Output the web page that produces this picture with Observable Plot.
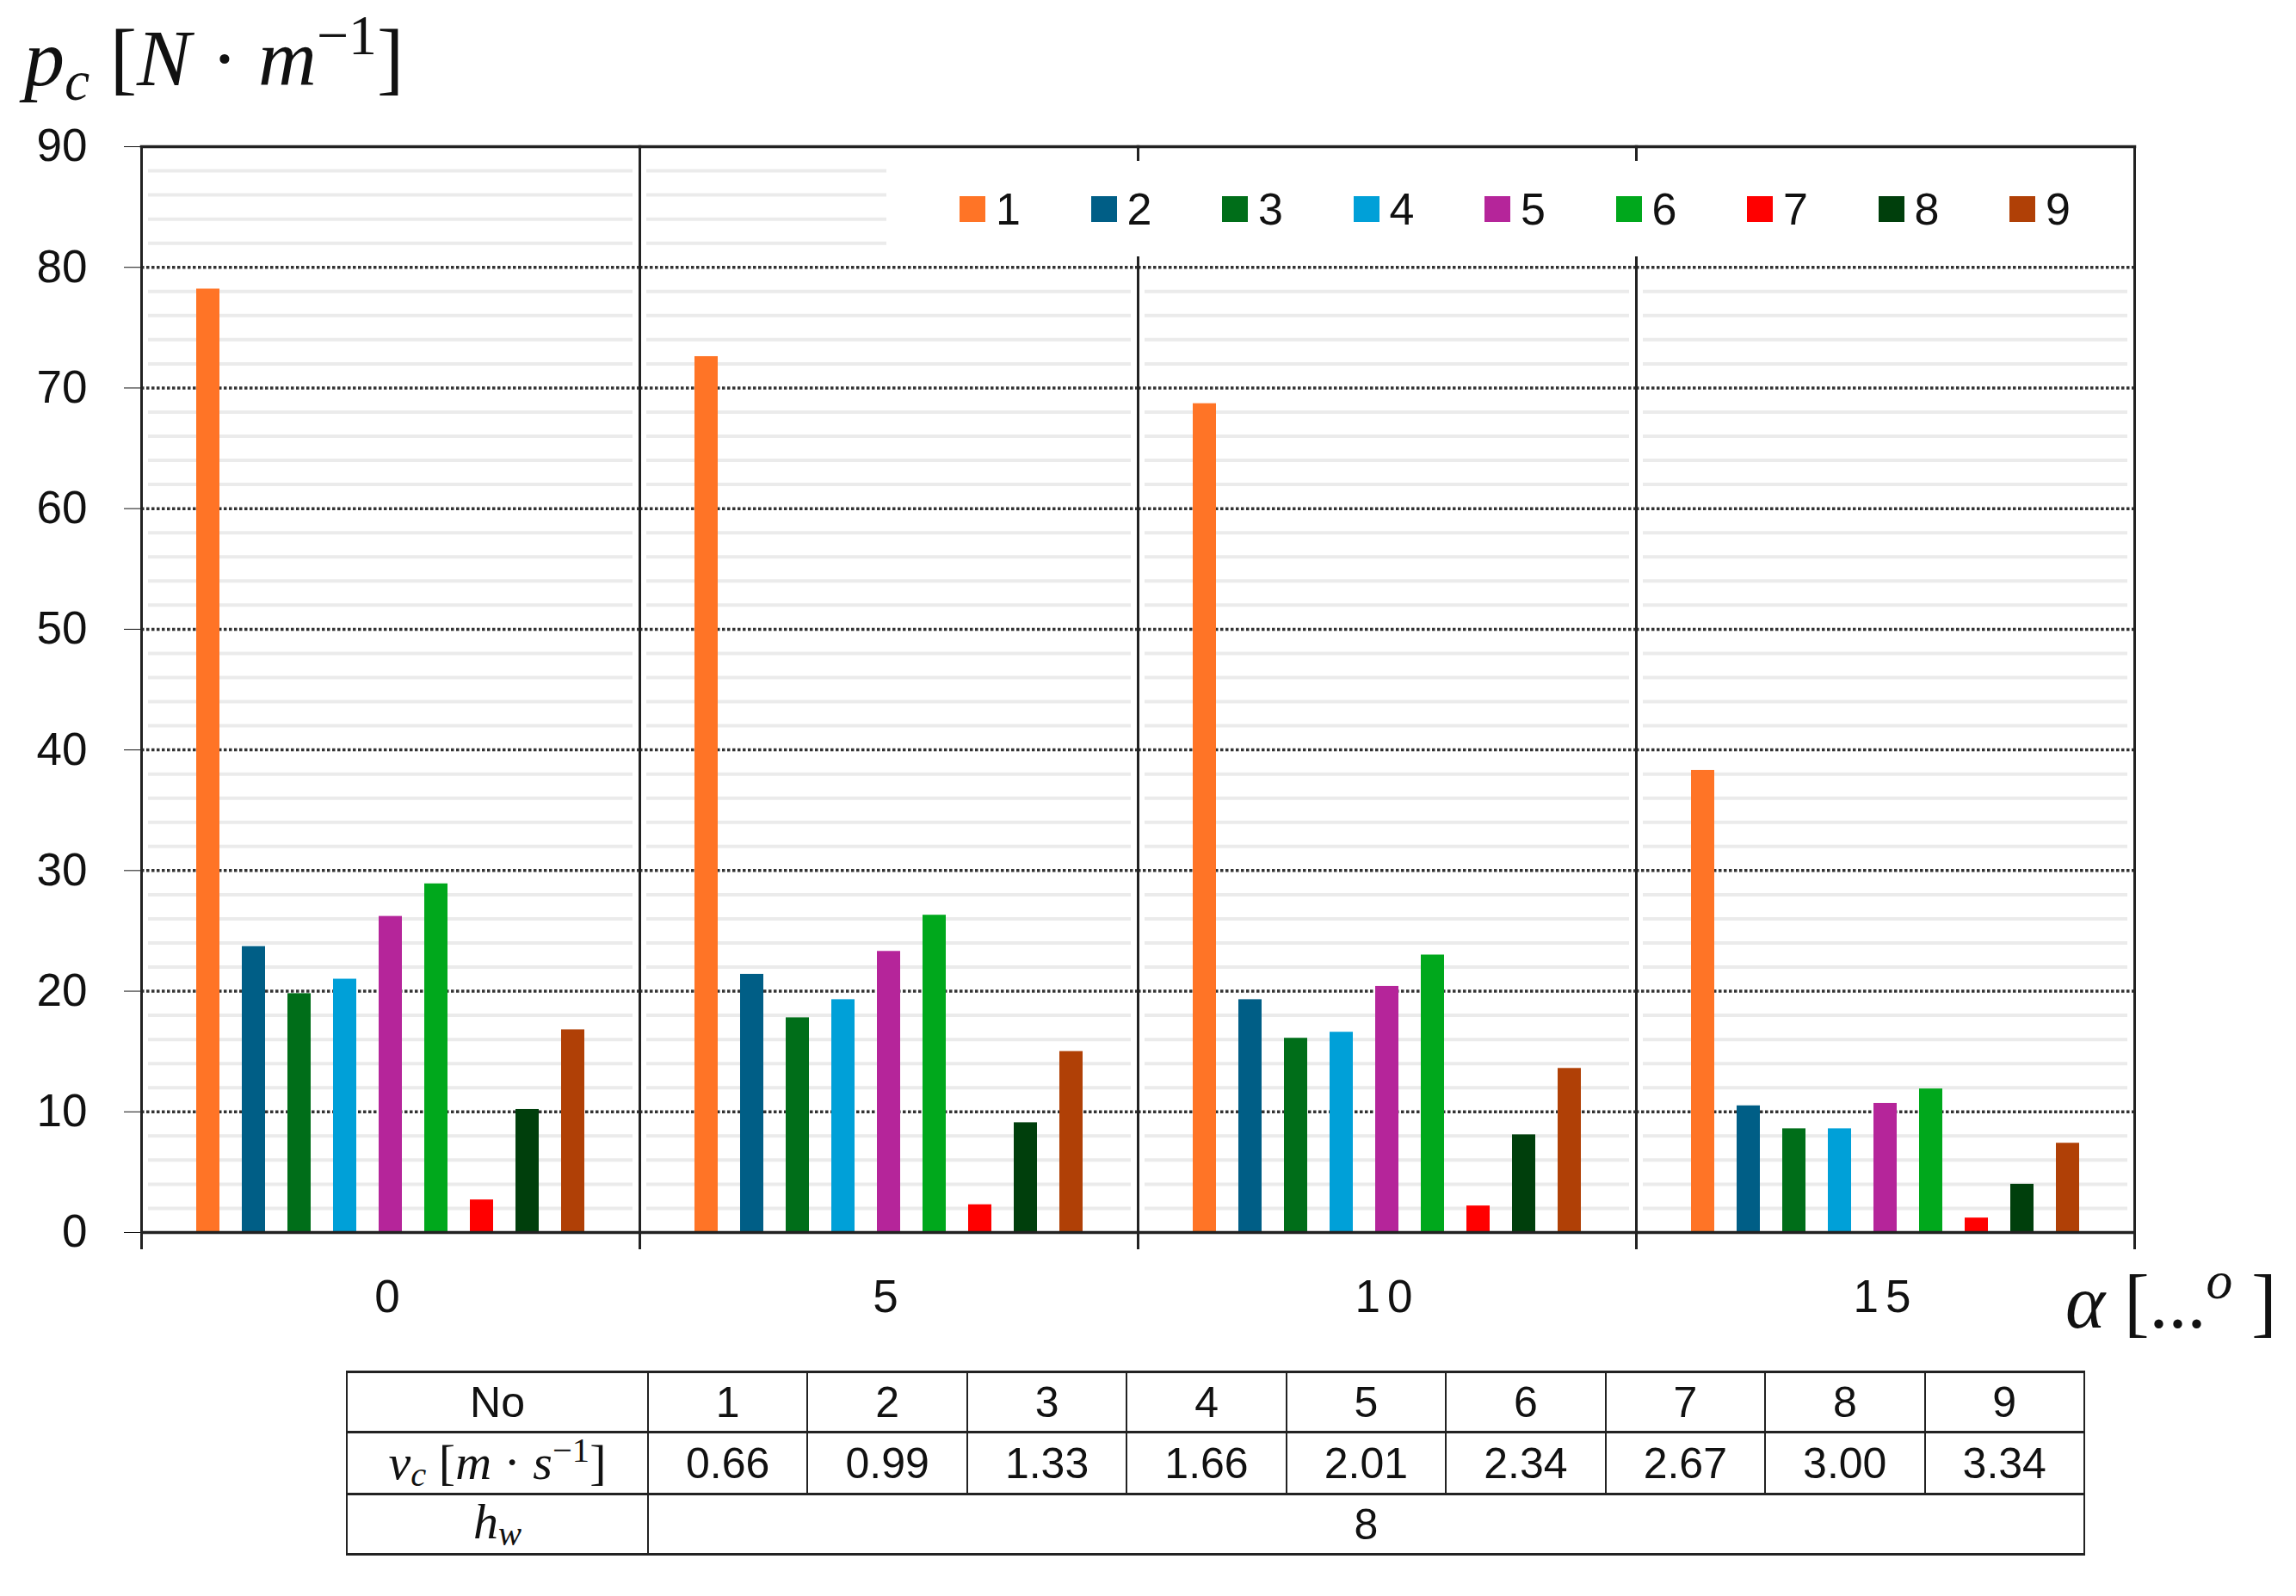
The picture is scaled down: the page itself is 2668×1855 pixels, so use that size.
<!DOCTYPE html>
<html>
<head>
<meta charset="utf-8">
<script src="https://cdn.jsdelivr.net/npm/d3@7"></script>
<script src="https://cdn.jsdelivr.net/npm/@observablehq/plot@0.6"></script>
<style>
  html, body { margin: 0; padding: 0; background: #fff; }
  #wrap { position: relative; width: 2668px; height: 1855px; background: #fff; overflow: hidden; }
  #chart { position: absolute; left: 0; top: 0; }
  #ytitle { position: absolute; left: 28px; top: 2px; font-family: "Liberation Serif", serif; font-size: 94px; line-height: 1.2; color: #111; white-space: nowrap; }
  #ytitle i { font-style: italic; }
  #ytitle sub { font-size: 0.7em; vertical-align: -0.25em; }
  #ytitle sup { font-size: 0.7em; vertical-align: 0.55em; }
  #xtitle { position: absolute; left: 2400px; top: 1452px; font-family: "Liberation Serif", serif; font-size: 88px; line-height: 1.2; color: #111; white-space: nowrap; }
  #xtitle sup { font-size: 0.7em; vertical-align: 0.55em; font-style: italic; }
  #legend { position: absolute; left: 1030px; top: 187px; width: 1446px; height: 111px; background: #fff; display: flex; align-items: center; padding-left: 85px; box-sizing: border-box; }
  #legend style { display: none !important; }
  #legend [class$="-swatches"], #legend [class*="-swatches "] { font-family: "Liberation Sans", Arial, sans-serif !important; font-size: 52px !important; color: #111 !important; margin: 0 !important; display: flex !important; align-items: center !important; flex-wrap: nowrap !important; min-height: 0 !important; }
  #legend [class$="-swatch"] { display: inline-flex !important; align-items: center !important; width: 152.5px !important; margin: 0 !important; flex: none !important; font-size: 52px !important; font-family: "Liberation Sans", Arial, sans-serif !important; color: #111 !important; }
  #legend svg { margin-right: 12px !important; flex: none; }
  #table { position: absolute; left: 402px; top: 1593px; border-collapse: collapse; font-family: "Liberation Sans", Arial, sans-serif; font-size: 50px; color: #111; table-layout: fixed; width: 2021px; }
  #table td { border-left: 2px solid #222; border-right: 2px solid #222; border-top: 3px solid #222; border-bottom: 3px solid #222; text-align: center; height: 67px; padding: 0; line-height: 1; }
  #table td.math { font-family: "Liberation Serif", serif; font-size: 58px; }
  #table td.math sub { font-size: 0.7em; vertical-align: -0.2em; }
  #table td.math sup { font-size: 0.7em; vertical-align: 0.5em; }
  svg [aria-label="fx-axis tick label"] text { letter-spacing: 8px; }
</style>
</head>
<body>
<div id="wrap">
  <div id="chart"></div>
  <div id="ytitle"><i>p</i><sub><i>c</i></sub> [<i>N</i> · <i>m</i><sup>−1</sup>]</div>
  <div id="legend"></div>
  <div id="xtitle"><i>α</i> [...<sup>o</sup> ]</div>
  <table id="table"></table>
</div>
<script>
// ---- data ----
const alphas = [0, 5, 10, 15];                 // α [°] groups
const series = [1, 2, 3, 4, 5, 6, 7, 8, 9];     // run No
const pc_alpha0  = [78.2, 23.7, 19.8, 21.0, 26.2, 28.9, 2.7, 10.2, 16.8];
const pc_alpha5  = [72.6, 21.4, 17.8, 19.3, 23.3, 26.3, 2.3, 9.1, 15.0];
const pc_alpha10 = [68.7, 19.3, 16.1, 16.6, 20.4, 23.0, 2.2, 8.1, 13.6];
const pc_alpha15 = [38.3, 10.5, 8.6, 8.6, 10.7, 11.9, 1.2, 4.0, 7.4];
const vcValues = ["0.66", "0.99", "1.33", "1.66", "2.01", "2.34", "2.67", "3.00", "3.34"];
const hwValue = "8";
const yTicks = [0, 10, 20, 30, 40, 50, 60, 70, 80, 90];
const yMajorGrid = [10, 20, 30, 40, 50, 60, 70, 80];
const yMinorGrid = d3.range(2, 90, 2).filter(v => v % 10 !== 0);
const seriesColors = ["#ff7426", "#005e86", "#006e19", "#00a0d8", "#b5259a", "#00a81c", "#ff0000", "#003f0c", "#b04006"];

// ---- table for Plot ----
const valueSets = [pc_alpha0, pc_alpha5, pc_alpha10, pc_alpha15];
const data = [];
alphas.forEach((a, i) => series.forEach((s, j) => data.push({alpha: a, no: s, p: valueSets[i][j]})));

const dark = "#222";
const chart = Plot.plot({
  width: 2668,
  height: 1560,
  marginTop: 170,
  marginLeft: 163,
  marginRight: 187,
  marginBottom: 128,
  style: {fontFamily: "'Liberation Sans', Arial, sans-serif", fontSize: "53px", color: "#111", background: "transparent"},
  fx: {domain: alphas, padding: 0, label: null, tickSize: 0, tickPadding: 55},
  x: {domain: series, paddingInner: 0.49, paddingOuter: 1.165, axis: null},
  y: {domain: [0, 90], ticks: yTicks, tickSize: 20, tickPadding: 43, label: null},
  color: {type: "ordinal", domain: series, range: seriesColors},
  marks: [
    Plot.ruleY(yMinorGrid, {stroke: "#ebebeb", strokeWidth: 4, insetLeft: 8, insetRight: 8}),
    Plot.ruleY(yMajorGrid, {stroke: "#333", strokeWidth: 3.5, strokeDasharray: "3.5,2.5"}),
    Plot.barY(data, {fx: "alpha", x: "no", y: "p", fill: "no"}),
    Plot.ruleY([0], {stroke: dark, strokeWidth: 3.5}),
    Plot.frame({anchor: "top", stroke: dark, strokeWidth: 3.5}),
    Plot.frame({anchor: "left", stroke: dark, strokeWidth: 3, insetBottom: -18}),
    Plot.frame({anchor: "right", stroke: dark, strokeWidth: 3, insetBottom: -18})
  ]
});
document.getElementById("chart").appendChild(chart);

const legend = chart.legend("color", {swatchSize: 30});
document.getElementById("legend").appendChild(legend);

// ---- parameter table below the chart ----
const table = document.getElementById("table");
const cg = document.createElement("colgroup");
const c0 = document.createElement("col"); c0.style.width = "350px"; cg.appendChild(c0);
series.forEach(() => { const c = document.createElement("col"); cg.appendChild(c); });
table.appendChild(cg);
const r1 = table.insertRow();
const h1 = r1.insertCell(); h1.textContent = "No";
series.forEach(s => { r1.insertCell().textContent = s; });
const r2 = table.insertRow();
const h2 = r2.insertCell(); h2.className = "math";
h2.innerHTML = "<i>v</i><sub><i>c</i></sub> [<i>m</i> · <i>s</i><sup>−1</sup>]";
vcValues.forEach(v => { r2.insertCell().textContent = v; });
const r3 = table.insertRow();
const h3 = r3.insertCell(); h3.className = "math";
h3.innerHTML = "<i>h</i><sub><i>w</i></sub>";
const hc = r3.insertCell(); hc.colSpan = series.length; hc.textContent = hwValue;
</script>
</body>
</html>
